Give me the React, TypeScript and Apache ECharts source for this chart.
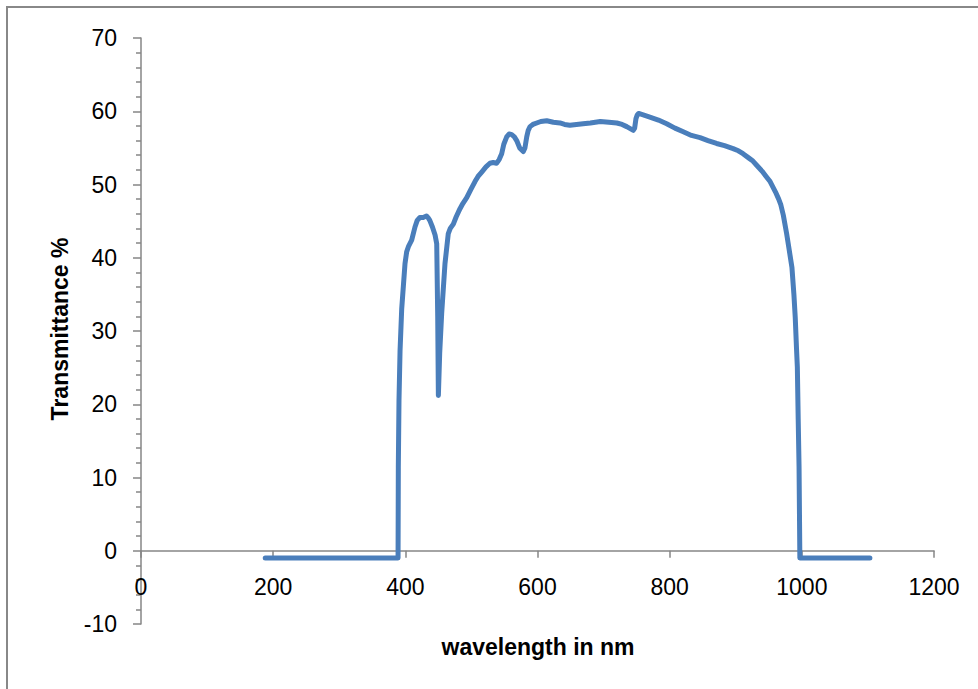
import React, { useEffect, useRef } from "react";
import * as echarts from "echarts";

const wavelengths: number[] = [
  188, 250, 300, 350, 389, 389.4, 390.4, 392, 394.5, 399.5, 402, 405, 409.6, 414.6, 418, 422, 427, 432, 435, 437,
  441, 445, 447.5, 449, 450, 452, 455, 460, 465, 468, 472.6, 477, 482.7, 487, 492.9, 499, 505.4, 510, 515.6, 522,
  528, 533, 538, 542, 545.8, 549, 553.4, 557, 561, 565, 568.5, 573, 578.5, 581, 583.7, 586, 588.7, 593, 598.8, 605,
  614, 624, 634, 641, 649, 659, 669, 680, 695, 708, 720, 728, 735, 741, 745, 747, 749, 751, 753, 760,
  770, 783, 795.5, 808, 820.6, 833, 846, 858, 871, 883, 896, 904, 911, 920, 926, 932, 940, 946, 952, 960,
  965, 968, 972, 977, 981, 985, 988, 990, 992, 993.2, 994.5, 995.8, 997, 1000, 1050, 1103,
];

const transmittance: number[] = [
  -1, -1, -1, -1, -1, 11.4, 20.5, 27.3, 33, 39.2, 40.8, 41.6, 42.4, 44.2, 45.1, 45.5, 45.5, 45.7, 45.4, 45.1,
  44.2, 43.1, 41.9, 32, 21.2, 27, 32.4, 39.2, 43.3, 44, 44.6, 45.6, 46.7, 47.4, 48.2, 49.3, 50.4, 51.1, 51.7, 52.4,
  52.9, 53, 52.9, 53.4, 54.2, 55.5, 56.5, 56.9, 56.8, 56.5, 56.0, 55, 54.5, 55, 56.5, 57.4, 57.9, 58.2, 58.4, 58.6,
  58.7, 58.5, 58.4, 58.2, 58.1, 58.2, 58.3, 58.4, 58.6, 58.5, 58.4, 58.2, 57.9, 57.6, 57.4, 57.7, 59, 59.5, 59.7, 59.5,
  59.2, 58.8, 58.3, 57.7, 57.2, 56.7, 56.4, 56, 55.6, 55.3, 54.9, 54.6, 54.2, 53.6, 53.2, 52.6, 51.8, 51.1, 50.4, 49,
  48, 47.3, 45.8, 43.3, 41, 38.7, 35, 31.9, 27.5, 25.1, 18, 11.4, -1, -1, -1, -1,
];

const xTicks = { min: 0, max: 1200, interval: 200 };
const yTicks = { min: -10, max: 70, interval: 10 };

const xTitle = "wavelength in nm";
const yTitle = "Transmittance %";

const GRID_TOP = 38;
const GRID_BOTTOM = 65;
const CHART_H = 689;

export default function App() {
  const ref = useRef<HTMLDivElement>(null);

  useEffect(() => {
    if (!ref.current) return;
    const chart = echarts.init(ref.current, undefined, { renderer: "svg" });
    const data = wavelengths.map((w, i) => [w, transmittance[i]]);
    const axisColor = "#868686";
    const font = "'Liberation Sans', Arial, sans-serif";
    // shift the x axis (line, ticks and labels) up so that it crosses the y axis at 0
    const plotH = CHART_H - GRID_TOP - GRID_BOTTOM;
    const zeroShift = (plotH * (0 - yTicks.min)) / (yTicks.max - yTicks.min);
    chart.setOption({
      animation: false,
      backgroundColor: "#ffffff",
      grid: { left: 141, right: 44, top: GRID_TOP, bottom: GRID_BOTTOM, containLabel: false },
      graphic: [
        {
          type: "rect",
          shape: { x: 7, y: 7, width: 1000, height: 800 },
          style: { fill: "none", stroke: "#888888", lineWidth: 2 },
          silent: true,
        },
        {
          type: "text",
          x: 538,
          y: 647,
          style: {
            text: xTitle,
            font: `bold 23px ${font}`,
            fill: "#000000",
            align: "center",
            verticalAlign: "middle",
          },
        },
        {
          type: "text",
          x: 60,
          y: 329,
          rotation: Math.PI / 2,
          style: {
            text: yTitle,
            font: `bold 23px ${font}`,
            fill: "#000000",
            align: "center",
            verticalAlign: "middle",
          },
        },
      ],
      xAxis: {
        type: "value",
        min: xTicks.min,
        max: xTicks.max,
        interval: xTicks.interval,
        offset: -zeroShift,
        axisLine: { show: true, onZero: false, lineStyle: { color: axisColor, width: 1.5 } },
        axisTick: { show: true, length: 7, lineStyle: { color: axisColor, width: 1.5 } },
        minorTick: { show: false },
        splitLine: { show: false },
        axisLabel: {
          color: "#000000",
          fontSize: 23,
          fontFamily: font,
          margin: 25,
          formatter: (v: number) => String(v),
        },
      },
      yAxis: {
        type: "value",
        min: yTicks.min,
        max: yTicks.max,
        interval: yTicks.interval,
        axisLine: { show: true, onZero: false, lineStyle: { color: axisColor, width: 1.5 } },
        axisTick: { show: true, length: 8, lineStyle: { color: axisColor, width: 1.5 } },
        minorTick: { show: true, splitNumber: 5, length: 5, lineStyle: { color: axisColor, width: 1.5 } },
        splitLine: { show: false },
        axisLabel: {
          color: "#000000",
          fontSize: 23,
          fontFamily: font,
          margin: 24,
          formatter: (v: number) => String(v),
        },
      },
      series: [
        {
          type: "line",
          data,
          symbol: "none",
          smooth: false,
          lineStyle: { color: "#4a7ebb", width: 5, cap: "round", join: "round" },
          z: 3,
        },
      ],
    });
    return () => chart.dispose();
  }, []);

  return (
    <div
      ref={ref}
      style={{ position: "fixed", left: 0, top: 0, width: 978, height: 689, background: "#fff" }}
    />
  );
}
